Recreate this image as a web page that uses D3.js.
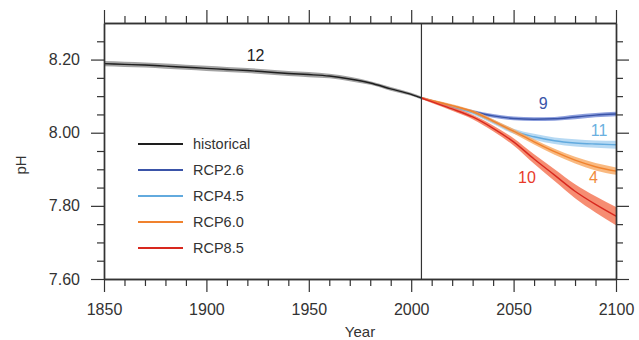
<!DOCTYPE html>
<html>
<head>
<meta charset="utf-8">
<script src="https://cdn.jsdelivr.net/npm/d3@7"></script>
<style>
  body { margin: 0; background: #fff; }
  svg text { font-family: "Liberation Sans", Arial, sans-serif; fill: #333; }
</style>
</head>
<body>
<svg id="chart"></svg>
<script>
const width = 639;
const height = 340;

// historical run
const histYears = [1850, 1860, 1870, 1880, 1890, 1900, 1910, 1920, 1930, 1940, 1950, 1960, 1970, 1980, 1990, 2000, 2005];
const histPH = [8.189, 8.187, 8.185, 8.182, 8.179, 8.176, 8.173, 8.170, 8.166, 8.162, 8.159, 8.155, 8.147, 8.136, 8.120, 8.105, 8.095];
const histSpread = [0.007, 0.007, 0.007, 0.007, 0.007, 0.007, 0.007, 0.007, 0.007, 0.007, 0.007, 0.006, 0.006, 0.005, 0.005, 0.004, 0.004];

// projections
const projYears = [2005, 2010, 2020, 2030, 2040, 2050, 2060, 2070, 2080, 2090, 2100];
const rcp26 = [8.095, 8.087, 8.072, 8.058, 8.046, 8.039, 8.037, 8.038, 8.043, 8.048, 8.051];
const rcp45 = [8.095, 8.087, 8.071, 8.055, 8.030, 8.004, 7.989, 7.978, 7.972, 7.969, 7.967];
const rcp60 = [8.095, 8.088, 8.074, 8.058, 8.032, 8.004, 7.975, 7.948, 7.925, 7.907, 7.895];
const rcp85 = [8.095, 8.085, 8.065, 8.043, 8.012, 7.975, 7.928, 7.884, 7.840, 7.804, 7.772];
const spread26 = [0.003, 0.003, 0.004, 0.004, 0.005, 0.005, 0.005, 0.005, 0.006, 0.006, 0.006];
const spread45 = [0.003, 0.003, 0.004, 0.005, 0.006, 0.007, 0.008, 0.009, 0.010, 0.010, 0.011];
const spread60 = [0.003, 0.003, 0.004, 0.004, 0.005, 0.006, 0.007, 0.008, 0.009, 0.010, 0.010];
const spread85 = [0.003, 0.004, 0.005, 0.006, 0.008, 0.010, 0.013, 0.016, 0.019, 0.022, 0.025];

const seriesNames = ["historical", "RCP2.6", "RCP4.5", "RCP6.0", "RCP8.5"];
const lineColors = ["#1e1e1e", "#3a54a8", "#62aade", "#f0822e", "#d8281e"];
const bandColors = ["#8c8c8c", "#7087d4", "#a4d0f0", "#f8a860", "#f4704f"];

// model counts written on the plot
const counts = ["12", "9", "11", "4", "10"];
const countYears = [1924, 2064.5, 2091.7, 2089, 2056.5];
const countPH = [8.197, 8.065, 7.991, 7.863, 7.863];
const countColors = ["#222222", "#3a54a8", "#6ab0e0", "#f08a3a", "#e83a2a"];

const yTicks = [7.60, 7.80, 8.00, 8.20];
const yMinorVals = [7.65, 7.70, 7.75, 7.85, 7.90, 7.95, 8.05, 8.10, 8.15, 8.25];

const svg = d3.select("#chart")
    .attr("width", width)
    .attr("height", height);

const x = d3.scaleLinear().domain([1850, 2100]).range([104, 616]);
const y = d3.scaleLinear().domain([7.60, 8.30]).range([279, 23]);

const series = [
    {years: histYears, v: histPH, s: histSpread},
    {years: projYears, v: rcp26, s: spread26},
    {years: projYears, v: rcp45, s: spread45},
    {years: projYears, v: rcp60, s: spread60},
    {years: projYears, v: rcp85, s: spread85},
];

const area = d3.area()
    .x(d => x(d.year))
    .y0(d => y(d.v - d.s))
    .y1(d => y(d.v + d.s))
    .curve(d3.curveMonotoneX);
const line = d3.line()
    .x(d => x(d.year))
    .y(d => y(d.v))
    .curve(d3.curveMonotoneX);

const plot = svg.append("g");
series.forEach(function(ser, i) {
    const pts = ser.years.map((yr, j) => ({year: yr, v: ser.v[j], s: ser.s[j]}));
    plot.append("path")
        .datum(pts)
        .attr("d", area)
        .attr("fill", bandColors[i])
        .attr("opacity", 0.8);
    plot.append("path")
        .datum(pts)
        .attr("d", line)
        .attr("fill", "none")
        .attr("stroke", lineColors[i])
        .attr("stroke-width", 1.4);
});

// 2005 divider
svg.append("line")
    .attr("x1", x(2005)).attr("x2", x(2005))
    .attr("y1", y(8.30)).attr("y2", y(7.60))
    .attr("stroke", "#333").attr("stroke-width", 1.2);

// axes: major + minor ticks on all four sides
const xMajor = d3.range(1850, 2101, 50);
const xMinor = d3.range(1850, 2101, 10).filter(v => v % 50 !== 0);

function styleAxis(g) {
    g.selectAll(".domain").attr("stroke", "#333").attr("stroke-width", 1.4);
    g.selectAll(".tick line").attr("stroke", "#333").attr("stroke-width", 1.2);
    g.selectAll("text").attr("font-size", 16).attr("fill", "#333");
}

svg.append("g")
    .attr("transform", `translate(0,${y(7.60)})`)
    .call(d3.axisBottom(x).tickValues(xMajor).tickFormat(d3.format("d")).tickSize(13).tickSizeOuter(0).tickPadding(12))
    .call(styleAxis);
svg.append("g")
    .attr("transform", `translate(0,${y(7.60)})`)
    .call(d3.axisBottom(x).tickValues(xMinor).tickFormat("").tickSize(7).tickSizeOuter(0))
    .call(styleAxis);
svg.append("g")
    .attr("transform", `translate(0,${y(8.30)})`)
    .call(d3.axisTop(x).tickValues(xMajor).tickFormat("").tickSize(13).tickSizeOuter(0))
    .call(styleAxis);
svg.append("g")
    .attr("transform", `translate(0,${y(8.30)})`)
    .call(d3.axisTop(x).tickValues(xMinor).tickFormat("").tickSize(7).tickSizeOuter(0))
    .call(styleAxis);

svg.append("g")
    .attr("transform", `translate(${x(1850)},0)`)
    .call(d3.axisLeft(y).tickValues(yTicks).tickFormat(d3.format(".2f")).tickSize(13).tickSizeOuter(0).tickPadding(11))
    .call(styleAxis);
svg.append("g")
    .attr("transform", `translate(${x(1850)},0)`)
    .call(d3.axisLeft(y).tickValues(yMinorVals).tickFormat("").tickSize(7).tickSizeOuter(0))
    .call(styleAxis);
svg.append("g")
    .attr("transform", `translate(${x(2100)},0)`)
    .call(d3.axisRight(y).tickValues(yTicks).tickFormat("").tickSize(13).tickSizeOuter(0))
    .call(styleAxis);
svg.append("g")
    .attr("transform", `translate(${x(2100)},0)`)
    .call(d3.axisRight(y).tickValues(yMinorVals).tickFormat("").tickSize(7).tickSizeOuter(0))
    .call(styleAxis);

// axis titles
svg.append("text")
    .attr("x", 360).attr("y", 337)
    .attr("text-anchor", "middle")
    .attr("font-size", 15)
    .text("Year");
svg.append("text")
    .attr("transform", "translate(26,165) rotate(-90)")
    .attr("text-anchor", "middle")
    .attr("font-size", 15)
    .text("pH");

// counts
svg.append("g").selectAll("text")
    .data(counts)
    .enter().append("text")
    .attr("x", (d, i) => x(countYears[i]))
    .attr("y", (d, i) => y(countPH[i]))
    .attr("text-anchor", "middle")
    .attr("font-size", 16)
    .style("fill", (d, i) => countColors[i])
    .text(d => d);

// legend
const legend = svg.append("g");
seriesNames.forEach(function(name, i) {
    const ly = 144 + i * 26;
    legend.append("line")
        .attr("x1", 138).attr("x2", 183)
        .attr("y1", ly).attr("y2", ly)
        .attr("stroke", lineColors[i])
        .attr("stroke-width", 1.8);
    legend.append("text")
        .attr("x", 193).attr("y", ly)
        .attr("dy", "0.35em")
        .attr("font-size", 14.5)
        .text(name);
});
</script>
</body>
</html>
